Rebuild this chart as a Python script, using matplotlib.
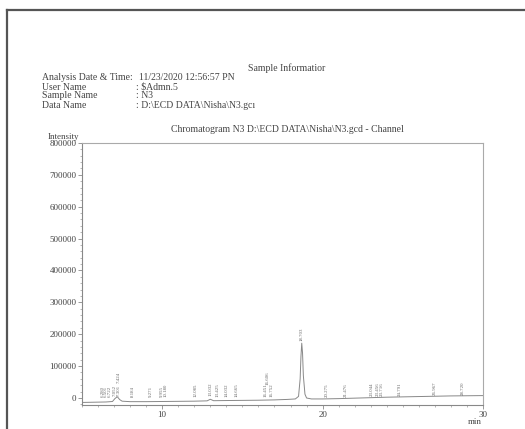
import matplotlib
matplotlib.use("Agg")
import matplotlib.pyplot as plt
from matplotlib.ticker import MultipleLocator
from matplotlib.lines import Line2D

# ---- data ----
trace_time = [5.0, 6.0, 6.5, 6.9, 7.05, 7.2, 7.35, 7.5, 8.0, 9.0, 10.0, 11.0, 12.0, 12.8, 13.0, 13.2,
              14.0, 15.0, 16.0, 17.0, 17.8, 18.3, 18.5, 18.6, 18.65, 18.70, 18.75, 18.8, 18.9, 19.0,
              19.3, 20.0, 21.0, 22.0, 23.0, 24.0, 25.0, 26.0, 27.0, 28.0, 29.0, 30.0]
trace_int = [-14000, -13000, -12500, -11000, -2000, 4000, -5000, -10000, -11500, -11500, -11000, -10500,
             -10000, -9000, -4000, -8500, -8000, -7500, -7000, -6000, -4500, -3000, 5000, 60000,
             130000, 172000, 140000, 70000, 12000, 0, -3000, -3000, -2000, -500, 1000, 2500, 3500,
             4500, 5500, 6500, 7000, 7500]

peak_rt = [6.28, 6.50, 6.72, 7.05, 7.30, 7.42, 8.184, 9.271, 9.955, 10.180, 12.085, 13.032, 13.425,
           14.032, 14.665, 16.451, 16.606, 16.752, 18.703, 20.275, 21.476, 23.044, 23.456, 23.716,
           24.791, 26.967, 28.720]
peak_label = ["6.280", "6.501", "6.722", "7.052", "7.301", "7.424", "8.184", "9.271", "9.955",
              "10.180", "12.085", "13.032", "13.425", "14.032", "14.665", "16.451", "16.606",
              "16.752", "18.703", "20.275", "21.476", "23.044", "23.456", "23.716", "24.791",
              "26.967", "28.720"]
peak_label_y = [2000, 2000, 2000, 6000, 6000, 46000, 2000, 2000, 2000, 2000, 2000, 5000, 2000,
                2000, 2000, 2000, 40000, 2000, 178000, 3000, 4000, 6000, 6000, 6000, 7000, 8000, 9000]
peak_label_dx = [0, 0, 0, 0, 0, -0.12, 0, 0, 0, 0, 0, 0, 0, 0, 0, 0, -0.03, 0.05, 0, 0, 0, 0, 0, 0,
                 0, 0, 0]

y_ticks = [0, 100000, 200000, 300000, 400000, 500000, 600000, 700000, 800000]
x_ticks = [10, 20, 30]

info_keys = ["Analysis Date & Time:", "User Name", "Sample Name", "Data Name"]
info_vals = ["11/23/2020 12:56:57 PN", ": $Admn.5", ": N3", ": D:\\ECD DATA\\Nisha\\N3.gc\u0131"]

plt.rcParams['font.family'] = ['Liberation Serif', 'DejaVu Serif']
W, H = 525, 429
fig = plt.figure(figsize=(W / 100, H / 100), dpi=100)
fig.patch.set_facecolor("white")

# page frame
fig.add_artist(Line2D([7 / W, 7 / W], [0, 1 - 10 / H], color="#555555", lw=1.6))
fig.add_artist(Line2D([7 / W, 1], [1 - 10 / H, 1 - 10 / H], color="#555555", lw=1.6))

tc = "#444444"
fs = 7
fig.text(287 / W, 1 - 68 / H, "Sample Informatior", ha="center", va="center", fontsize=fs, color=tc)
ys = [78, 87, 96, 105]
for k, v, yy in zip(info_keys, info_vals, ys):
    fig.text(42 / W, 1 - yy / H, k, ha="left", va="center", fontsize=fs, color=tc)
    fig.text(136 / W if k != info_keys[0] else 139 / W, 1 - yy / H, v, ha="left", va="center",
             fontsize=fs, color=tc)
fig.text(287 / W, 1 - 130 / H, "Chromatogram N3 D:\\ECD DATA\\Nisha\\N3.gcd - Channel",
         ha="center", va="center", fontsize=fs, color=tc)
fig.text(48 / W, 1 - 137 / H, "Intensity", ha="left", va="center", fontsize=6.5, color=tc)
fig.text(475 / W, 1 - 422 / H, "min", ha="center", va="center", fontsize=6.5, color=tc)

ax = fig.add_axes([82 / W, 1 - 405 / H, (483 - 82) / W, (405 - 143) / H])
ax.plot(trace_time, trace_int, color="#888888", lw=0.7)
for rt, lab, ly, dx in zip(peak_rt, peak_label, peak_label_y, peak_label_dx):
    ax.text(rt + dx, ly, lab, rotation=90, ha="center", va="bottom", fontsize=3.5, color="#666666")

ax.set_xlim(5, 30)
ax.set_ylim(-22000, 800000)
ax.set_yticks(y_ticks)
ax.set_yticklabels([str(v) for v in y_ticks])
ax.set_xticks(x_ticks)
ax.set_xticklabels([str(v) for v in x_ticks])
ax.yaxis.set_minor_locator(MultipleLocator(20000))
ax.xaxis.set_minor_locator(MultipleLocator(1))
ax.tick_params(axis="both", which="major", labelsize=6.5, colors="#888888", labelcolor=tc,
               length=3, width=0.6, pad=1)
ax.tick_params(axis="both", which="minor", colors="#999999", length=1.5, width=0.5)
for s in ["left", "bottom"]:
    ax.spines[s].set_color("#888888")
    ax.spines[s].set_linewidth(0.8)
for s in ["top", "right"]:
    ax.spines[s].set_color("#aaaaaa")
    ax.spines[s].set_linewidth(0.8)

fig.savefig("out.png", dpi=100, facecolor="white")
